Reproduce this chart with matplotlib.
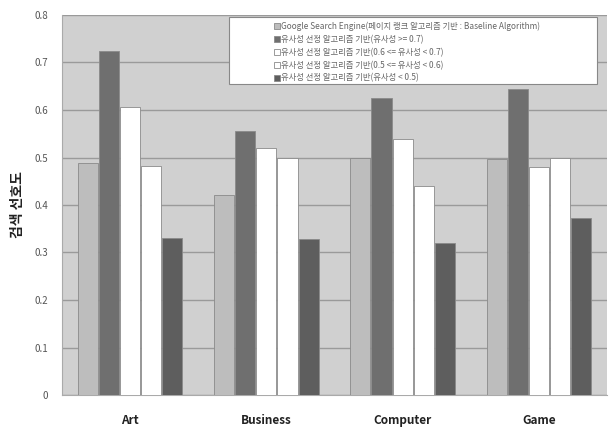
import numpy as np
import matplotlib.pyplot as plt
from matplotlib.patches import Rectangle

plt.rcParams['font.family'] = ['Noto Sans CJK KR', 'DejaVu Sans']

categories = ["Art", "Business", "Computer", "Game"]
series_names = [
    "Google Search Engine(페이지 랭크 알고리즘 기반 : Baseline Algorithm)",
    "유사성 선정 알고리즘 기반(유사성 >= 0.7)",
    "유사성 선정 알고리즘 기반(0.6 <= 유사성 < 0.7)",
    "유사성 선정 알고리즘 기반(0.5 <= 유사성 < 0.6)",
    "유사성 선정 알고리즘 기반(유사성 < 0.5)",
]
baseline = [0.489, 0.421, 0.498, 0.497]
sim_07 = [0.724, 0.556, 0.626, 0.645]
sim_06 = [0.607, 0.521, 0.540, 0.481]
sim_05 = [0.483, 0.499, 0.440, 0.498]
sim_low = [0.331, 0.328, 0.321, 0.372]
values = [baseline, sim_07, sim_06, sim_05, sim_low]
colors = ["#bdbdbd", "#6f6f6f", "#ffffff", "#ffffff", "#5e5e5e"]

fig = plt.figure(figsize=(6.12, 4.28), dpi=100)
ax = fig.add_axes([62 / 612, 33 / 428, 545 / 612, 380 / 428])
ax.set_facecolor("#d0d0d0")

x = np.arange(len(categories))
width = 0.155
handles = []
for i, (vals, c) in enumerate(zip(values, colors)):
    h = ax.bar(x + (i - 2) * width, vals, width * 0.95, color=c,
               edgecolor="#8a8a8a", linewidth=0.6, zorder=3)
    handles.append(h)

ax.set_xlim(-0.5, 3.5)
ax.set_ylim(0, 0.8)
ax.set_yticks(np.arange(0, 0.81, 0.1))
ax.set_yticklabels(["0"] + ["%.1f" % v for v in np.arange(0.1, 0.81, 0.1)])
ax.yaxis.grid(True, color="#9a9a9a", linewidth=1.0, zorder=1)
ax.set_xticks(x)
ax.set_xticklabels(categories, fontsize=8.5, fontweight="bold", color="#222222")
ax.tick_params(axis="x", length=0, pad=14)
ax.tick_params(axis="y", length=0, labelsize=7, labelcolor="#555555", pad=10)
for s in ["top", "right"]:
    ax.spines[s].set_visible(False)
ax.spines["left"].set_color("#aaaaaa")
ax.spines["bottom"].set_color("#aaaaaa")
ax.set_ylabel("검색 선호도", fontsize=10, fontweight="bold", color="#222222", labelpad=7)

# legend box
fig.patches.append(Rectangle((229 / 612, 1 - 84 / 428), 368 / 612, 67 / 428,
                             transform=fig.transFigure, facecolor="white",
                             edgecolor="#888888", linewidth=0.8, zorder=5))
leg = fig.legend(handles, series_names, loc="upper left",
                 bbox_to_anchor=(268 / 612, 1 - 16 / 428), frameon=False,
                 fontsize=6, labelspacing=0.45, handlelength=0.7, handleheight=0.7,
                 handletextpad=0.2, borderpad=0.2, labelcolor="#666666")
leg.set_zorder(6)

fig.savefig("out.png", dpi=100)
